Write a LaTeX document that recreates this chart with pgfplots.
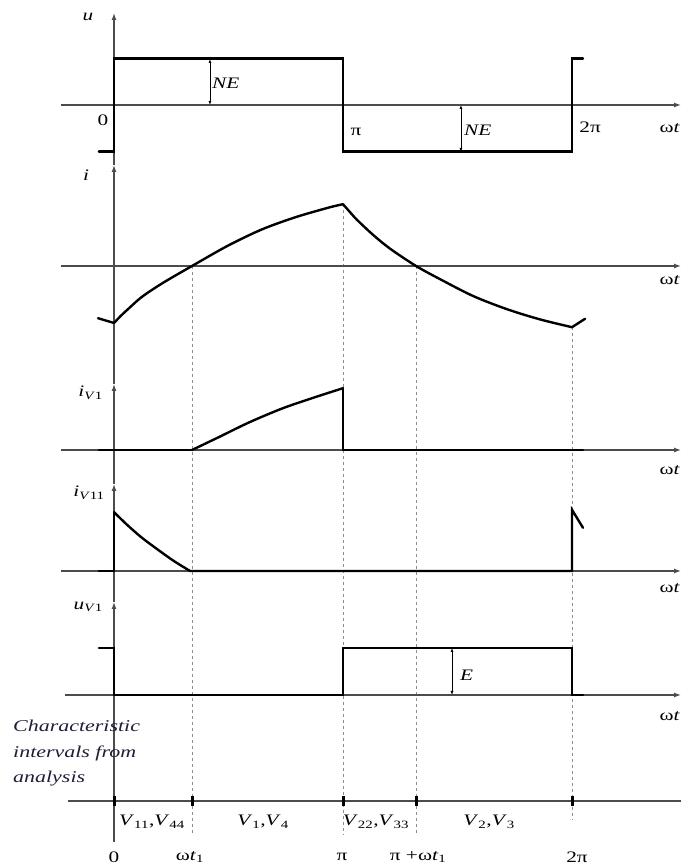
\documentclass[border=0pt]{standalone}
\usepackage{pgfplots}
\pgfplotsset{compat=1.18}
\usetikzlibrary{arrows.meta}
\usepackage{fontspec}
\setmainfont{Liberation Serif}[FakeStretch=1.33]
\newcommand{\lab}{\fontsize{16pt}{18pt}\selectfont}
\newcommand{\chr}{\itshape\fontsize{16.5pt}{20pt}\selectfont}
\definecolor{chrcol}{RGB}{30,30,55}
\tikzset{
  sig/.style={black, line width=2.4pt, line join=miter, line cap=round},
  sigs/.style={black, line width=2.4pt, line cap=round, smooth, tension=0.5},
  ax/.style={black!70, line width=1.3pt},
  dsh/.style={black!45, line width=1pt, dash pattern=on 3pt off 3pt},
  arr/.style={-{Latex[length=7pt,width=5pt]}},
  dim/.style={black, line width=0.8pt, {Latex[length=4pt,width=3pt]}-{Latex[length=4pt,width=3pt]}},
}
\begin{document}
\begin{tikzpicture}
\useasboundingbox (0,0) rectangle (681pt,868pt);
\clip (0,0) rectangle (681pt,868pt);
\begin{axis}[at={(0pt,0pt)}, anchor=south west, scale only axis,
  width=681pt, height=868pt,
  xmin=-0.49782, xmax=2.47598, ymin=-868, ymax=0,
  hide axis, clip=false,
]
% dashed guide lines
\draw[dsh] (axis cs:0.3406,-266) -- (axis cs:0.3406,-835);
\draw[dsh] (axis cs:1,-204) -- (axis cs:1,-835);
\draw[dsh] (axis cs:1.319,-266) -- (axis cs:1.319,-835);
\draw[dsh] (axis cs:2,-327) -- (axis cs:2,-820);

% horizontal axes
\draw[ax,arr] (axis cs:-0.231,-105) -- (axis cs:2.476,-105);
\draw[ax,arr] (axis cs:-0.231,-266) -- (axis cs:2.476,-266);
\draw[ax,arr] (axis cs:-0.231,-450) -- (axis cs:2.476,-450);
\draw[ax,arr] (axis cs:-0.231,-571) -- (axis cs:2.476,-571);
\draw[ax,arr] (axis cs:-0.214,-695) -- (axis cs:2.476,-695);
\draw[ax] (axis cs:-0.201,-801) -- (axis cs:2.476,-801);

% vertical axis with arrowheads for each panel
\draw[ax,arr] (axis cs:0,-842) -- (axis cs:0,-602);
\draw[ax,arr] (axis cs:0,-602) -- (axis cs:0,-484);
\draw[ax,arr] (axis cs:0,-484) -- (axis cs:0,-384);
\draw[ax,arr] (axis cs:0,-384) -- (axis cs:0,-165);
\draw[ax,arr] (axis cs:0,-165) -- (axis cs:0,-13);

% Panel 1: u (units of NE)
\addplot[sig] table[row sep=\\, x=x, y expr=\thisrow{v}*46.5-105] {
x v\\ -0.066 -1\\ 0 -1\\ 0 1\\ 1 1\\ 1 -1\\ 2 -1\\ 2 1\\ 2.048 1\\ };
\draw[dim] (axis cs:0.419,-59) -- (axis cs:0.419,-105);
\draw[dim] (axis cs:1.515,-105) -- (axis cs:1.515,-152);

% Panel 2: i
\addplot[sig] table[row sep=\\, x=x, y expr=\thisrow{v}*60-266] {
x v\\ -0.07 -0.87\\ 0 -0.95\\ };
\addplot[sigs] table[row sep=\\, x=x, y expr=\thisrow{v}*60-266] {
x v\\ 0 -0.95\\ 0.03 -0.83\\ 0.061 -0.72\\ 0.12 -0.52\\ 0.21 -0.29\\ 0.3406 0\\ 0.498 0.34\\ 0.646 0.61\\ 0.79 0.81\\ 0.934 0.97\\ 1.0 1.03\\ };
\addplot[sigs] table[row sep=\\, x=x, y expr=\thisrow{v}*60-266] {
x v\\ 1.0 1.03\\ 1.03 0.90\\ 1.061 0.77\\ 1.131 0.52\\ 1.205 0.29\\ 1.319 0\\ 1.424 -0.22\\ 1.568 -0.50\\ 1.716 -0.72\\ 1.86 -0.89\\ 2.0 -1.02\\ };
\addplot[sig] table[row sep=\\, x=x, y expr=\thisrow{v}*60-266] {
x v\\ 2.0 -1.02\\ 2.057 -0.88\\ };

% Panel 3: i_V1
\addplot[sig] table[row sep=\\, x=x, y expr=\thisrow{v}*60-450] {
x v\\ -0.066 0\\ 0.3406 0\\ };
\addplot[sigs] table[row sep=\\, x=x, y expr=\thisrow{v}*60-450] {
x v\\ 0.3406 0\\ 0.45 0.20\\ 0.59 0.46\\ 0.74 0.70\\ 0.886 0.89\\ 1.0 1.03\\ };
\addplot[sig] table[row sep=\\, x=x, y expr=\thisrow{v}*60-450] {
x v\\ 1.0 1.03\\ 1.0 0\\ 2.048 0\\ };

% Panel 4: i_V11
\addplot[sig] table[row sep=\\, x=x, y expr=\thisrow{v}*60-571] {
x v\\ -0.066 0\\ 0 0\\ 0 0.98\\ };
\addplot[sigs] table[row sep=\\, x=x, y expr=\thisrow{v}*60-571] {
x v\\ 0 0.98\\ 0.06 0.76\\ 0.12 0.56\\ 0.19 0.36\\ 0.26 0.17\\ 0.332 0\\ };
\addplot[sig] table[row sep=\\, x=x, y expr=\thisrow{v}*60-571] {
x v\\ 0.332 0\\ 2.0 0\\ 2.0 1.02\\ 2.048 0.72\\ };

% Panel 5: u_V1 (units of E)
\addplot[sig] table[row sep=\\, x=x, y expr=\thisrow{v}*47-695] {
x v\\ -0.066 1\\ 0 1\\ 0 0\\ 1 0\\ 1 1\\ 2 1\\ 2 0\\ 2.048 0\\ };
\draw[dim] (axis cs:1.476,-648) -- (axis cs:1.476,-695);

% Panel 6: interval ticks
\addplot[only marks, mark=|, mark size=5pt, mark options={line width=3pt, black}] table[row sep=\\, x=x, y expr=-801] {
x\\ 0\\ 0.3406\\ 1\\ 1.319\\ 2\\ };

% labels
\node[font=\lab] at (axis cs:-0.1135,-17) {\textit{u}};
\node[font=\lab] at (axis cs:-0.048,-120) {0};
\node[font=\lab] at (axis cs:1.057,-132) {π};
\node[font=\lab] at (axis cs:2.079,-127) {2π};
\node[font=\lab, anchor=east, inner sep=0pt] at (axis cs:2.472,-128) {ω\textit{t}};
\node[font=\lab, anchor=west, inner sep=0pt] at (axis cs:0.428,-83) {\textit{NE}};
\node[font=\lab, anchor=west, inner sep=0pt] at (axis cs:1.528,-130) {\textit{NE}};

\node[font=\lab] at (axis cs:-0.122,-175) {\textit{i}};
\node[font=\lab, anchor=east, inner sep=0pt] at (axis cs:2.472,-280) {ω\textit{t}};

\node[font=\lab, anchor=east, inner sep=0pt] at (axis cs:-0.048,-393) {\textit{i}\textsubscript{\textit{V}1}};
\node[font=\lab, anchor=east, inner sep=0pt] at (axis cs:2.472,-470) {ω\textit{t}};

\node[font=\lab, anchor=east, inner sep=0pt] at (axis cs:-0.040,-493) {\textit{i}\textsubscript{\textit{V}11}};
\node[font=\lab, anchor=east, inner sep=0pt] at (axis cs:2.472,-588) {ω\textit{t}};

\node[font=\lab, anchor=east, inner sep=0pt] at (axis cs:-0.048,-607) {\textit{u}\textsubscript{\textit{V}1}};
\node[font=\lab, anchor=west, inner sep=0pt] at (axis cs:1.511,-675) {\textit{E}};
\node[font=\lab, anchor=east, inner sep=0pt] at (axis cs:2.472,-716) {ω\textit{t}};

\node[font=\chr, text=chrcol, anchor=west, inner sep=0pt] at (axis cs:-0.441,-726) {Characteristic};
\node[font=\chr, text=chrcol, anchor=west, inner sep=0pt] at (axis cs:-0.441,-753) {intervals from};
\node[font=\chr, text=chrcol, anchor=west, inner sep=0pt] at (axis cs:-0.441,-779) {analysis};

\node[font=\lab] at (axis cs:0.166,-822) {\textit{V}\textsubscript{11},\textit{V}\textsubscript{44}};
\node[font=\lab] at (axis cs:0.651,-822) {\textit{V}\textsubscript{1},\textit{V}\textsubscript{4}};
\node[font=\lab] at (axis cs:1.144,-822) {\textit{V}\textsubscript{22},\textit{V}\textsubscript{33}};
\node[font=\lab] at (axis cs:1.638,-822) {\textit{V}\textsubscript{2},\textit{V}\textsubscript{3}};

\node[font=\lab] at (axis cs:0,-857) {0};
\node[font=\lab] at (axis cs:0.332,-857) {ω\textit{t}\textsubscript{1}};
\node[font=\lab] at (axis cs:0.996,-857) {π};
\node[font=\lab] at (axis cs:1.328,-857) {π +ω\textit{t}\textsubscript{1}};
\node[font=\lab] at (axis cs:2.022,-857) {2π};
\end{axis}
\end{tikzpicture}
\end{document}
